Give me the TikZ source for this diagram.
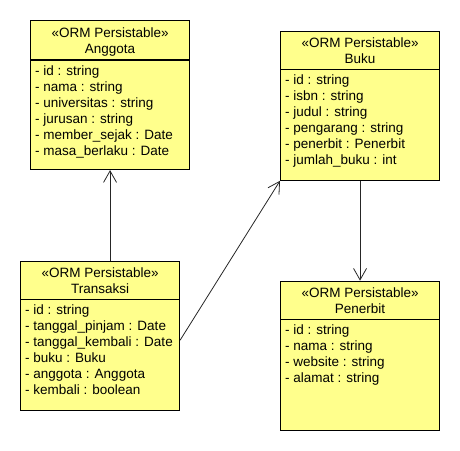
\documentclass[tikz,border=0pt]{standalone}
\usepackage{fontspec}
\setmainfont{Liberation Sans}
\usetikzlibrary{arrows.meta}
\definecolor{classfill}{RGB}{255,255,140}
\tikzset{
  classbox/.style={draw=black, fill=classfill, line width=1.1pt, inner sep=0pt,
    minimum width=159pt, minimum height=149pt},
  classline/.style={draw=black, line width=1.1pt},
  txt/.style={inner sep=0pt, font=\fontsize{13.5}{16}\selectfont},
  assoc/.style={draw=black!85, line width=0.8pt,
    -{Straight Barb[length=11.5pt, width=13pt, line width=0.8pt]}}
}
\newcommand\umlclass[6]{%
  \node[classbox, anchor=north west] (#1) at (#2,#3) {};
  \draw[classline] ([yshift=-#4pt]#1.north west) -- ([yshift=-#4pt]#1.north east);
  \node[txt, anchor=base] (#1-st) at ([yshift=-17pt]#1.north) {«ORM Persistable»};
  \node[txt, anchor=base] (#1-nm) at ([yshift=-33pt]#1.north) {#5};
  \foreach \t [count=\i from 0] in {#6}
    \node[txt, anchor=base west] (#1-a\i) at ([xshift=5pt, yshift={-(#4+15.5+16*\i)*1pt}]#1.north west) {\t};
}
\begin{document}
\begin{tikzpicture}[x=1pt,y=-1pt]
\useasboundingbox (0,0) rectangle (460,450);
\umlclass{ang}{30}{20}{40}{Anggota}{- id : string, - nama : string, - universitas : string, - jurusan : string, - member\_sejak : Date, - masa\_berlaku : Date}
\umlclass{buku}{280}{30.7}{38.6}{Buku}{- id : string, - isbn : string, - judul : string, - pengarang : string, - penerbit : Penerbit, - jumlah\_buku : int}
\umlclass{trans}{20}{260.7}{38.6}{Transaksi}{- id : string, - tanggal\_pinjam : Date, - tanggal\_kembali : Date, - buku : Buku, - anggota : Anggota, - kembali : boolean}
\umlclass{pen}{280}{280.7}{38.6}{Penerbit}{- id : string, - nama : string, - website : string, - alamat : string}
\coordinate (tstart) at ([yshift=-79.5pt]trans.north east);
\draw[assoc] (trans.north -| ang.south) -- (ang.south);
\draw[assoc] (tstart) -- (buku.south west);
\draw[assoc] (buku.south) -- (pen.north);
\end{tikzpicture}
\end{document}
